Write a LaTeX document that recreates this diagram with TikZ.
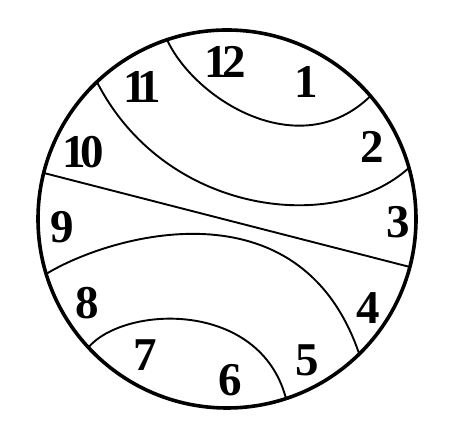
\documentclass[tikz,border=0pt]{standalone}
\usepackage{fontspec}
\setmainfont{Liberation Serif}
\usetikzlibrary{calc}
\begin{document}
\begin{tikzpicture}[x=1pt,y=1pt,
  rim/.style={line width=3.6pt},
  seam/.style={line width=1.9pt},
  num/.style={inner sep=0pt,font=\fontsize{47}{47}\selectfont\bfseries}]
\useasboundingbox (0,0) rectangle (450,438);
\coordinate (c) at (227,219);
\draw[rim] (c) circle[radius=189];
% end points on the rim
\coordinate (a1) at ($(c)+(108.5:189)$);
\coordinate (b1) at ($(c)+(40.6:189)$);
\coordinate (a2) at ($(c)+(133.5:189)$);
\coordinate (b2) at ($(c)+(15.7:189)$);
\coordinate (a3) at ($(c)+(165.9:189)$);
\coordinate (b3) at ($(c)+(-14.7:189)$);
\coordinate (a4) at ($(c)+(196.9:189)$);
\coordinate (b4) at ($(c)+(-45.6:189)$);
\coordinate (a5) at ($(c)+(222.8:189)$);
\coordinate (b5) at ($(c)+(-71.8:189)$);
% seams
\draw[seam] (a1) .. controls (195,338) and (300,273) .. (b1);
\draw[seam] (a2) .. controls (165,223) and (335,203) .. (b2);
\draw[seam] (a3) -- (b3);
\draw[seam] (a4) .. controls (110,203) and (300,258) .. (b4);
\draw[seam] (a5) .. controls (125,133) and (260,138) .. (b5);
% numerals
\node[num] (n12) at (225,376) {1\kern-0.12em2};
\node[num] (n1)  at (306,356) {1};
\node[num] (n11) at (142,351) {1\kern-0.2em1};
\node[num] (n10) at (83,286)  {1\kern-0.12em0};
\node[num] (n2)  at (372,291) {2};
\node[num] (n9)  at (62,211)  {9};
\node[num] (n3)  at (398,216) {3};
\node[num] (n8)  at (87,135)  {8};
\node[num] (n4)  at (368,130) {4};
\node[num] (n7)  at (145,83)  {7};
\node[num] (n6)  at (230,58)  {6};
\node[num] (n5)  at (307,78)  {5};
\end{tikzpicture}
\end{document}
